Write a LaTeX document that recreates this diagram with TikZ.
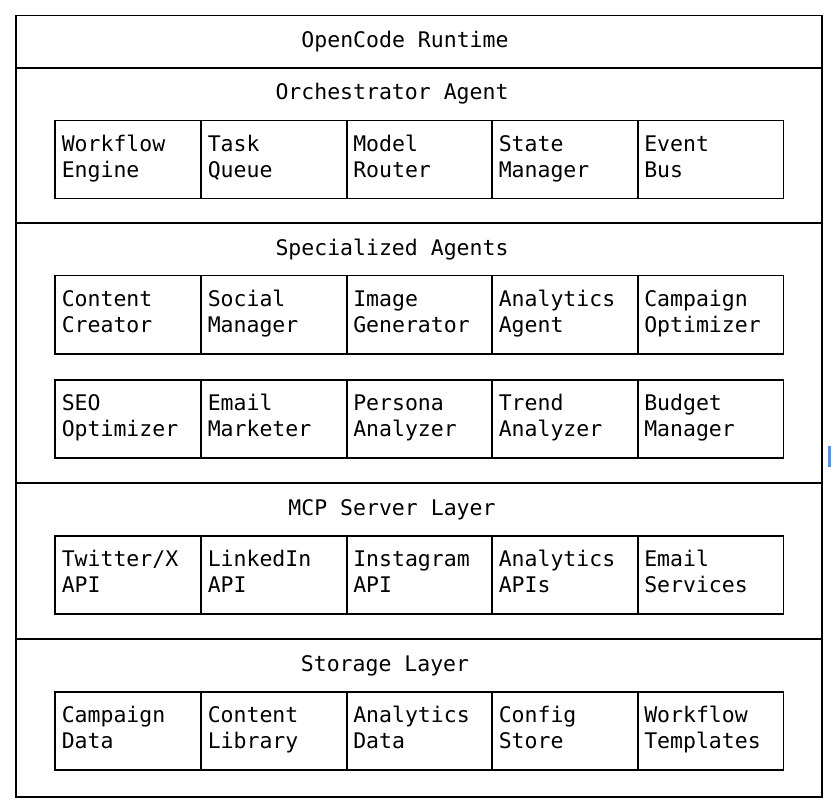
\documentclass[tikz,border=0pt]{standalone}
\usepackage{fontspec}
\setmonofont{DejaVu Sans Mono}
\begin{document}
\begin{tikzpicture}[x=1pt,y=-1pt,line width=1.5pt,
  font=\ttfamily\fontsize{21.5}{26}\selectfont,
  cell/.style={draw,anchor=north west,minimum width=146,minimum height=78,
    text width=132,inner xsep=7,align=left,
    execute at begin node=\strut,execute at end node=\strut},
  title/.style={anchor=center,execute at begin node=\strut}]
\useasboundingbox (0,0) rectangle (838,810);
\node[draw,minimum width=806,minimum height=781,anchor=north west] (outer) at (15,15) {};
\foreach \yy/\nm in {68/s1,223/s2,483/s3,639/s4}{
  \coordinate (\nm l) at (15,\yy); \coordinate (\nm r) at (821,\yy);
  \draw (\nm l) -- (\nm r);}
\node[title] (t0) at (405,42) {OpenCode Runtime};
\node[title] (t1) at (392,94) {Orchestrator Agent};
\node[title] (t2) at (392,250) {Specialized Agents};
\node[title] (t3) at (392,510) {MCP Server Layer};
\node[title] (t4) at (385,666) {Storage Layer};
\newcommand{\myrow}[7]{%
  \node[cell] (#1a) at (54,#2) {#3};
  \node[cell] (#1b) at (200,#2) {#4};
  \node[cell] (#1c) at (345.5,#2) {#5};
  \node[cell] (#1d) at (491,#2) {#6};
  \node[cell] (#1e) at (636.5,#2) {#7};}
\myrow{r1}{120}{Workflow\\Engine}{Task\\Queue}{Model\\Router}{State\\Manager}{Event\\Bus}
\myrow{r2}{275}{Content\\Creator}{Social\\Manager}{Image\\Generator}{Analytics\\Agent}{Campaign\\Optimizer}
\myrow{r3}{379}{SEO\\Optimizer}{Email\\Marketer}{Persona\\Analyzer}{Trend\\Analyzer}{Budget\\Manager}
\myrow{r4}{535}{Twitter/X\\API}{LinkedIn\\API}{Instagram\\API}{Analytics\\APIs}{Email\\Services}
\myrow{r5}{691}{Campaign\\Data}{Content\\Library}{Analytics\\Data}{Config\\Store}{Workflow\\Templates}
\coordinate (cur1) at (829,446); \coordinate (cur2) at (829,467);
\draw[line width=3pt,color=blue!60!cyan!70] (cur1) -- (cur2);
\end{tikzpicture}
\end{document}
